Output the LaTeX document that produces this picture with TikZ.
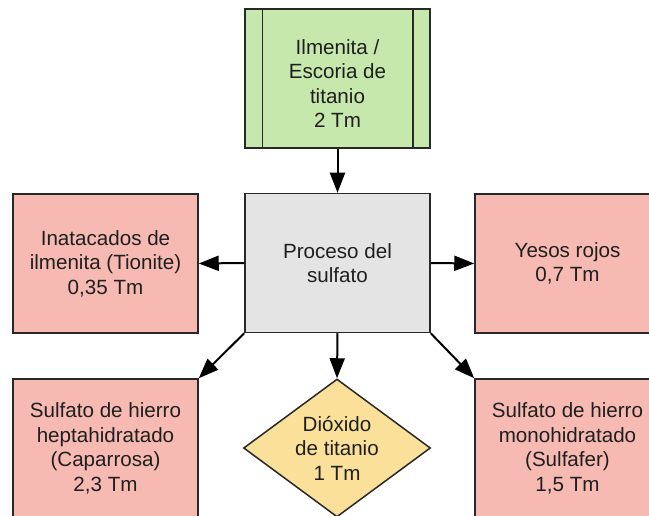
\documentclass[tikz,border=0pt]{standalone}
\usepackage{fontspec}
\setmainfont{Liberation Sans}
\definecolor{rawgreen}{RGB}{199, 232, 173}
\definecolor{wastered}{RGB}{246, 186, 178}
\definecolor{procgray}{RGB}{228, 228, 228}
\definecolor{prodyellow}{RGB}{250, 224, 152}
\definecolor{edgegray}{RGB}{40, 40, 40}
\usetikzlibrary{shapes.geometric, arrows.meta, positioning, calc}

\begin{document}
\begin{tikzpicture}[x=1pt, y=-1pt,
  box/.style={draw=edgegray, line width=1.5pt, minimum width=185pt, minimum height=139pt,
    inner sep=0pt, align=center, text=black!88, font=\fontsize{20.6}{24.5}\selectfont},
  wastebox/.style={box, fill=wastered},
  flow/.style={-{Triangle[length=20pt, width=15pt]}, line width=2pt, draw=black}
]
  \useasboundingbox (0,0) rectangle (649,516);
  \clip (0,0) rectangle (649,516);

  % materia prima
  \node[box, fill=rawgreen] (raw) at (337.5,78.5) {};
  \draw[edgegray, line width=1.5pt] ($(raw.north west)+(18,0)$) -- ($(raw.south west)+(18,0)$);
  \draw[edgegray, line width=1.5pt] ($(raw.north east)+(-18,0)$) -- ($(raw.south east)+(-18,0)$);
  \node[align=center, text=black!88, font=\fontsize{20.6}{24.5}\selectfont] (rawtext) at ([yshift=-5pt]raw.center)
    {Ilmenita /\\Escoria de\\titanio\\2 Tm};

  \node[box, fill=procgray] (proc) at (337.5,263) {Proceso del\\sulfato};

  % residuos y coproductos
  \node[wastebox] (tionite) at (105.5,263.5) {Inatacados de\\ilmenita (Tionite)\\0,35 Tm};
  \node[wastebox] (yesos) at (567.5,263.5) {Yesos rojos\\0,7 Tm};
  \node[wastebox] (capa) at (105.5,448.5) {Sulfato de hierro\\heptahidratado\\(Caparrosa)\\2,3 Tm};
  \node[wastebox] (sulfafer) at (567.5,448.5) {Sulfato de hierro\\monohidratado\\(Sulfafer)\\1,5 Tm};

  % producto
  \node[box, diamond, aspect=1.36, minimum width=187pt, minimum height=138pt, fill=prodyellow] (tio2) at (337,448)
    {Dióxido\\de titanio\\1 Tm};

  \draw[flow] (raw.south) -- (proc.north);
  \draw[flow] (proc.west) -- (tionite.east);
  \draw[flow] (proc.east) -- (yesos.west);
  \draw[flow] (proc.south west) -- (capa.north east);
  \draw[flow] (proc.south) -- (tio2.north);
  \draw[flow] (proc.south east) -- (sulfafer.north west);
\end{tikzpicture}
\end{document}
